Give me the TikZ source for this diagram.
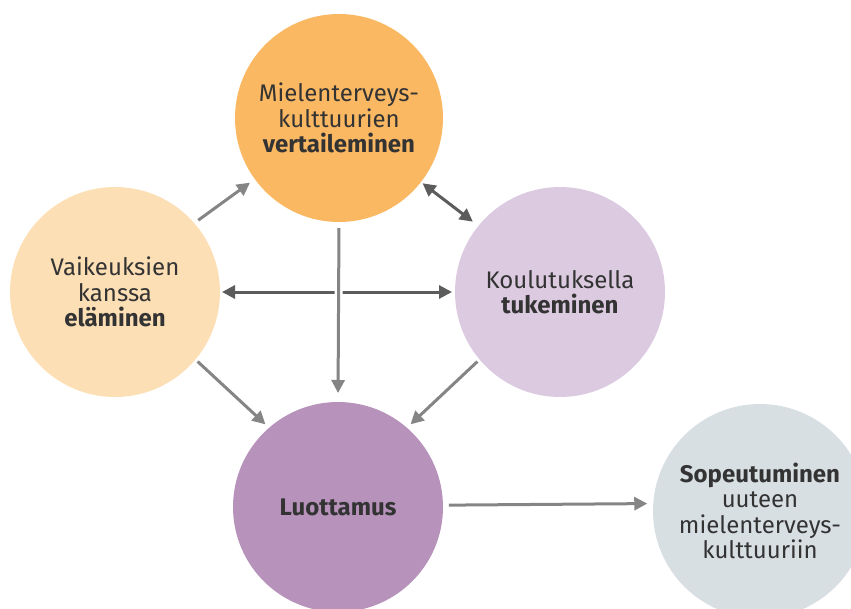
\documentclass[tikz,border=0pt]{standalone}
\usepackage{fontspec}
\setmainfont{Fira Sans}
\usetikzlibrary{arrows.meta}
\definecolor{oranssi}{HTML}{FBB863}
\definecolor{persikka}{HTML}{FDDFB5}
\definecolor{laventeli}{HTML}{DCCBE0}
\definecolor{violetti}{HTML}{B793BC}
\definecolor{harmaasini}{HTML}{D8DFE3}
\definecolor{nuoliharmaa}{HTML}{858585}
\definecolor{nuolitumma}{HTML}{5C5C5C}
\definecolor{teksti}{HTML}{333333}

\begin{document}
\begin{tikzpicture}[x=1pt, y=-1pt]
	\tikzset{ympyra/.style = {shape=circle, minimum size=210pt, inner sep=0pt, outer sep=0pt, align=center, text=teksti, font=\fontsize{24}{25.5}\selectfont},
		nuoli/.style = {draw=nuoliharmaa, line width=3pt, -{Triangle[length=13pt,width=13pt]}},
		kaksinuoli/.style = {draw=nuolitumma, line width=3pt, {Triangle[length=13pt,width=13pt]}-{Triangle[length=13pt,width=13pt]}}}
	\useasboundingbox (0,0) rectangle (851,608);
	\clip (0,0) rectangle (851,608);
	\node[ympyra, fill=oranssi, minimum size=208pt] (vertailu) at (339,118) {Mielenterveys-\\kulttuurien\\\textbf{vertaileminen}};
	\node[ympyra, fill=persikka] (elaminen) at (115,292) {Vaikeuksien\\kanssa\\\textbf{eläminen}};
	\node[ympyra, fill=laventeli] (koulutus) at (560,292) {Koulutuksella\\\textbf{tukeminen}};
	\node[ympyra, fill=violetti] (luottamus) at (338,507) {\textbf{Luottamus}};
	\node[ympyra, fill=harmaasini, minimum size=214pt] (sopeutuminen) at (760,511) {\textbf{Sopeutuminen}\\uuteen\\mielenterveys-\\kulttuuriin};
	% nuolet
	\draw[nuoli, shorten <=5pt, shorten >=6pt] (elaminen.41) -- (vertailu.216);
	\draw[kaksinuoli, shorten <=2pt, shorten >=7pt] (vertailu.322) -- (koulutus.141);
	\draw[kaksinuoli, shorten <=2pt, shorten >=3pt] (elaminen.east) -- (koulutus.west);
	\draw[nuoli, preaction={draw=white, line width=8pt}, shorten <=6pt, shorten >=9pt] (vertailu.south) -- (luottamus.north);
	\draw[nuoli, shorten <=3pt, shorten >=5pt] (elaminen.320) -- (luottamus.131);
	\draw[nuoli, shorten <=3pt, shorten >=5pt] (koulutus.220) -- (luottamus.49);
	\draw[nuoli, shorten <=6pt, shorten >=6pt] (luottamus.1) -- (sopeutuminen.176);
\end{tikzpicture}
\end{document}
